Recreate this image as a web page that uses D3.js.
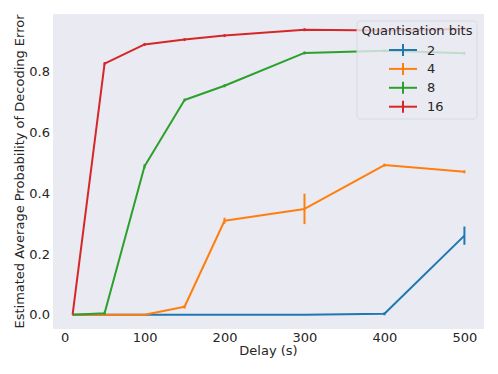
<!DOCTYPE html>
<html>
<head>
<meta charset="utf-8">
<script src="https://cdn.jsdelivr.net/npm/d3@7"></script>
<style>
    body { margin: 0; background: #fff; }
    text { font-family: "DejaVu Sans", sans-serif; fill: #262626; }
</style>
</head>
<body>
<div id="chart"></div>
<script>
const delays=[10, 50, 100, 150, 200, 300, 400, 500];
const bitLabels=["2", "4", "8", "16"];
const errorMeans=[
    [0, 0, 0, 0, 0, 0, 0.003, 0.26],
    [0, 0, 0, 0.026, 0.309, 0.348, 0.492, 0.47],
    [0, 0.005, 0.488, 0.706, 0.753, 0.861, 0.868, 0.86],
    [0, 0.826, 0.889, 0.905, 0.918, 0.9375, 0.935, 0.94]
];
const errorSpread=[
    [0, 0, 0, 0, 0, 0, 0.002, 0.03],
    [0, 0, 0, 0.006, 0.01, 0.05, 0.003, 0.004],
    [0, 0.002, 0.007, 0.003, 0.002, 0.003, 0.002, 0.002],
    [0, 0.004, 0.003, 0.002, 0.002, 0.002, 0.002, 0.002]
];
const xTicks=[0, 100, 200, 300, 400, 500];
const yTicks=[0, 0.2, 0.4, 0.6, 0.8];
const colors=["#1f77b4", "#ff7f0e", "#2ca02c", "#d62728"];

const width=498, height=374;
const margin={top: 14, right: 14, bottom: 45, left: 53};
const fontSize=13;

const svg=d3.select("#chart").append("svg")
    .attr("width", width)
    .attr("height", height);

// matplotlib style 5% padding around the data
const xMin=d3.min(delays), xMax=d3.max(delays);
const xPad=(xMax-xMin)*0.05;
let lo=d3.min(errorMeans.flatMap((s, i) => s.map((v, j) => v-errorSpread[i][j])));
let hi=d3.max(errorMeans.flatMap((s, i) => s.map((v, j) => v+errorSpread[i][j])));
const yPad=(hi-lo)*0.05;

const x=d3.scaleLinear()
    .domain([xMin-xPad, xMax+xPad])
    .range([margin.left, width-margin.right]);
const y=d3.scaleLinear()
    .domain([lo-yPad, hi+yPad])
    .range([height-margin.bottom, margin.top]);

svg.append("rect")
    .attr("x", margin.left)
    .attr("y", margin.top)
    .attr("width", width-margin.left-margin.right)
    .attr("height", height-margin.top-margin.bottom)
    .attr("fill", "#eaeaf2");

const xAxis=svg.append("g")
    .attr("transform", `translate(0,${height-margin.bottom})`)
    .call(d3.axisBottom(x).tickValues(xTicks).tickSize(0).tickPadding(4));
const yAxis=svg.append("g")
    .attr("transform", `translate(${margin.left},0)`)
    .call(d3.axisLeft(y).tickValues(yTicks).tickFormat(d3.format(".1f")).tickSize(0).tickPadding(3));
[xAxis, yAxis].forEach(a => {
    a.select(".domain").remove();
    a.selectAll("text").attr("font-size", fontSize).attr("fill", "#262626")
        .attr("font-family", "DejaVu Sans, sans-serif");
});

svg.append("text")
    .attr("x", (margin.left+width-margin.right)/2)
    .attr("y", 355)
    .attr("text-anchor", "middle")
    .attr("font-size", fontSize)
    .text("Delay (s)");

svg.append("text")
    .attr("transform", `translate(24,${(margin.top+height-margin.bottom)/2}) rotate(-90)`)
    .attr("text-anchor", "middle")
    .attr("font-size", fontSize)
    .text("Estimated Average Probability of Decoding Error");

const line=d3.line()
    .x(d => x(d[0]))
    .y(d => y(d[1]));

errorMeans.forEach((series, i) => {
    const pts=series.map((v, j) => [delays[j], v, errorSpread[i][j]]);
    const g=svg.append("g");
    g.append("path")
        .datum(pts)
        .attr("d", line)
        .attr("fill", "none")
        .attr("stroke", colors[i])
        .attr("stroke-width", 2)
        .attr("stroke-linejoin", "round");
    g.selectAll(".err")
        .data(pts.filter(d => d[2]>0))
        .enter().append("line")
        .attr("class", "err")
        .attr("x1", d => x(d[0]))
        .attr("x2", d => x(d[0]))
        .attr("y1", d => Math.max(y(d[1]-d[2]), y(d[1])+1.5))
        .attr("y2", d => Math.min(y(d[1]+d[2]), y(d[1])-1.5))
        .attr("stroke", colors[i])
        .attr("stroke-width", 2);
});

// legend
const legend=svg.append("g").attr("transform", "translate(357,21)");
legend.append("rect")
    .attr("width", 120)
    .attr("height", 98)
    .attr("rx", 3)
    .attr("fill", "#eaeaf2")
    .attr("fill-opacity", 0.8)
    .attr("stroke", "#d5d5dc")
    .attr("stroke-width", 0.8);
legend.append("text")
    .attr("x", 60)
    .attr("y", 14)
    .attr("text-anchor", "middle")
    .attr("font-size", fontSize)
    .text("Quantisation bits");
bitLabels.forEach((lab, i) => {
    const row=legend.append("g").attr("transform", `translate(0,${29+i*18.9})`);
    row.append("line")
        .attr("x1", 32).attr("x2", 60)
        .attr("stroke", colors[i]).attr("stroke-width", 2);
    row.append("line")
        .attr("x1", 46).attr("x2", 46)
        .attr("y1", -6).attr("y2", 6)
        .attr("stroke", colors[i]).attr("stroke-width", 2);
    row.append("text")
        .attr("x", 70)
        .attr("y", 4.5)
        .attr("font-size", fontSize)
        .text(lab);
});
</script>
</body>
</html>
